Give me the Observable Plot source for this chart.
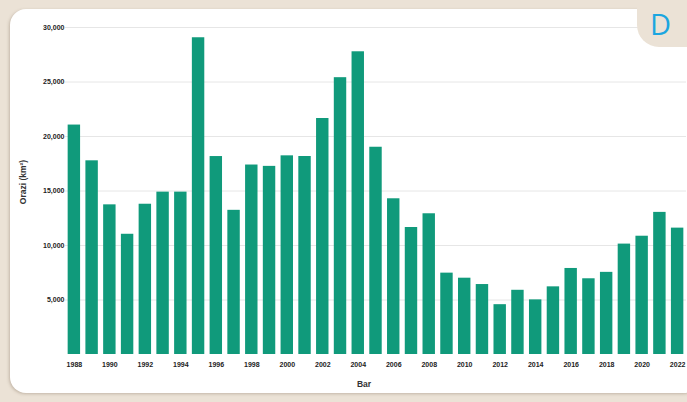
<!DOCTYPE html>
<html>
<head>
<meta charset="utf-8">
<script src="https://cdn.jsdelivr.net/npm/d3@7"></script>
<script src="https://cdn.jsdelivr.net/npm/@observablehq/plot@0.6"></script>
<style>
  html, body { margin: 0; padding: 0; }
  body { width: 687px; height: 402px; background: #ebe2d6; position: relative; overflow: hidden; font-family: "Liberation Sans", Arial, sans-serif; }
  #panel { position: absolute; left: 10px; top: 9px; width: 690px; height: 384px; background: #fff; border-radius: 16px; box-shadow: -1px 1px 3px rgba(120,100,80,0.35); }
  #chart { position: absolute; left: 0; top: 0; }
  #badge { position: absolute; left: 637px; top: 0; width: 60px; height: 47px; background: #ebe2d6; border-bottom-left-radius: 22px; color: #1ba6e0; font-family: "Open Sans", "Liberation Sans", sans-serif; font-size: 29px; line-height: 47px; padding-left: 13px; box-sizing: border-box; }
</style>
</head>
<body>
<div id="panel"></div>
<div id="chart"></div>
<div id="badge">D</div>
<script>
const years = [1988,1989,1990,1991,1992,1993,1994,1995,1996,1997,1998,1999,2000,2001,2002,2003,2004,2005,2006,2007,2008,2009,2010,2011,2012,2013,2014,2015,2016,2017,2018,2019,2020,2021,2022];
const areas = [21050,17770,13730,11030,13786,14896,14896,29059,18161,13227,17383,17259,18226,18165,21651,25396,27772,19014,14286,11651,12911,7464,7000,6418,4571,5891,5012,6207,7893,6947,7536,10129,10851,13038,11594];
const yTicks = [5000,10000,15000,20000,25000,30000];
const xTicks = years.filter(y => y % 2 === 0);
const yLabel = "Orazi (km²)";
const xLabel = "Bar";
const barColor = "#109a7b";

const data = years.map((y, i) => ({year: y, area: areas[i]}));

const chart = Plot.plot({
  width: 687,
  height: 402,
  marginLeft: 65,
  marginRight: 1,
  marginTop: 27,
  marginBottom: 48,
  style: {background: "transparent", fontFamily: "'Liberation Sans', Arial, sans-serif"},
  x: {type: "band", domain: years, paddingInner: 0.3, paddingOuter: 0.15, round: false},
  y: {domain: [0, 30000]},
  marks: [
    Plot.gridY(yTicks, {stroke: "#e6e6e6", strokeOpacity: 1}),
    Plot.barY(data, {x: "year", y: "area", fill: barColor}),
    Plot.axisY({ticks: yTicks, tickSize: 0, tickPadding: 1, tickFormat: d3.format(","), fontSize: 7, fontWeight: "bold", fill: "#222",
      label: yLabel, labelAnchor: "center", labelArrow: "none", labelOffset: 46}),
    Plot.axisX({ticks: xTicks, tickSize: 0, tickPadding: 8, tickFormat: d => String(d), fontSize: 7, fontWeight: "bold", fill: "#222",
      label: xLabel, labelAnchor: "center", labelArrow: "none", labelOffset: 32})
  ]
});
document.getElementById("chart").appendChild(chart);
chart.querySelectorAll("g[aria-label='y-axis label'] text").forEach(t => {
  t.setAttribute("font-size", 8.5);
  t.setAttribute("font-weight", "bold");
  t.setAttribute("fill", "#333");
  t.setAttribute("dx", 9);
});
chart.querySelectorAll("g[aria-label='x-axis label'] text").forEach(t => {
  t.setAttribute("font-size", 8.5);
  t.setAttribute("font-weight", "bold");
  t.setAttribute("fill", "#333");
  t.setAttribute("dx", -12);
});
</script>
</body>
</html>
